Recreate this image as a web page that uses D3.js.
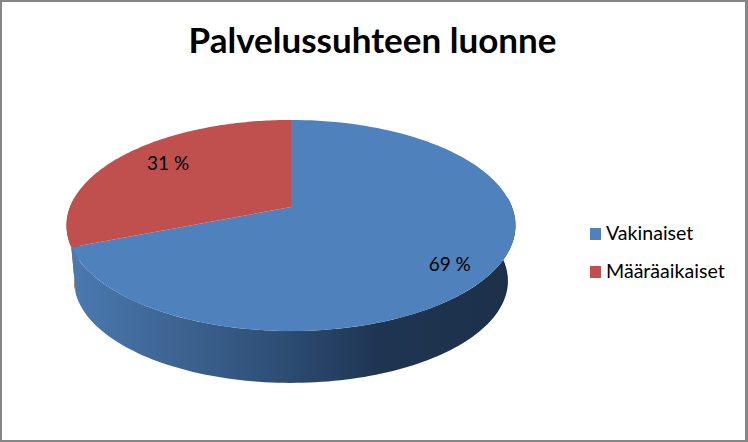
<!DOCTYPE html>
<html><head><meta charset="utf-8">
<script src="https://cdn.jsdelivr.net/npm/d3@7"></script>
<style>html,body{margin:0;padding:0;background:#fff}svg{display:block}text{font-family:Lato,"Open Sans",sans-serif;fill:#000}</style>
</head><body>
<svg id="c" width="748" height="442"></svg>
<script>
const categories = ["Vakinaiset", "Määräaikaiset"];
const values = [69, 31];
const labels = ["69 %", "31 %"];
const colors = ["#4f81bd", "#c0504d"];
const sideColors = ["url(#blueSide)", "#9c3a37"];
const title = "Palvelussuhteen luonne";

const W = 748, H = 442;
const svg = d3.select("#c");
svg.append("rect").attr("width",W).attr("height",H).attr("fill","#868686");
svg.append("rect").attr("x",2).attr("y",2).attr("width",W-5).attr("height",H-4).attr("fill","#fff");

const grad = svg.append("defs").append("linearGradient").attr("id","blueSide")
  .attr("gradientUnits","userSpaceOnUse").attr("x1",75).attr("x2",510).attr("y1",0).attr("y2",0);
[[0,"#4a79b0"],[0.2,"#3f6796"],[0.45,"#2f5078"],[0.7,"#1e3552"],[1,"#1c3049"]].forEach(s=>grad.append("stop").attr("offset",s[0]).attr("stop-color",s[1]));

// perspective projection of the unit pie disc
const k = 0.175;
const project = (cx, cy, a, b) => t => {
  const u = Math.sin(t), v = Math.cos(t), w = 1 + k*v;
  return [cx + a*u/w, cy - b*v/w];
};
const topFace = project(291, 207, 221, 102.3);
const bottomFace = project(291, 263, 213.6, 98.9);
const scaled = (t,f) => { const u=f*Math.sin(t), v=f*Math.cos(t), w=1+k*v; return [291+221*u/w, 207-102.3*v/w]; };

const arcs = d3.pie().sort(null).value(d=>d)(values);
const line = d3.line();
const samples = (a0,a1) => d3.range(0,121).map(i=>a0+(a1-a0)*i/120);

// side walls (the seam leans a little on the lower rim, as in a perspective view)
const rad = d=>d*Math.PI/180;
const seamLean = rad(4.6);
[1,0].forEach(i=>{
  const d = arcs[i];
  const a0 = Math.max(d.startAngle, rad(85)), a1 = Math.min(d.endAngle, rad(275));
  const b0 = i === 0 ? a0 : a0 + seamLean, b1 = i === 0 ? a1 + seamLean : a1;
  const upper = samples(a0,a1).map(topFace), lower = samples(b0,b1).map(bottomFace).reverse();
  svg.append("path").attr("d", line(upper.concat(lower))+"Z").attr("fill",sideColors[i]);
});
// top faces
arcs.forEach((d,i)=>{
  const pts = [[291,207]].concat(samples(d.startAngle,d.endAngle).map(topFace));
  svg.append("path").attr("d", line(pts)+"Z").attr("fill",colors[i]);
});
// data labels
const labelPos = [[0.80,8],[0.72,-4]];
arcs.forEach((d,i)=>{
  const p = scaled((d.startAngle+d.endAngle)/2, labelPos[i][0]);
  svg.append("text").attr("x",p[0]).attr("y",p[1]+labelPos[i][1]+6).attr("text-anchor","middle").attr("font-size",19).text(labels[i]);
});
// title
svg.append("text").attr("x",372.5).attr("y",53).attr("text-anchor","middle").attr("font-size",35).attr("font-weight",700).text(title);
// legend
const ly = d3.scalePoint().domain(categories).range([234,272]);
categories.forEach((c,i)=>{
  svg.append("rect").attr("x",590).attr("y",ly(c)-6).attr("width",11).attr("height",12).attr("fill",colors[i]);
  svg.append("text").attr("x",606).attr("y",ly(c)+6).attr("font-size",19.6).text(c);
});
</script>
</body></html>
